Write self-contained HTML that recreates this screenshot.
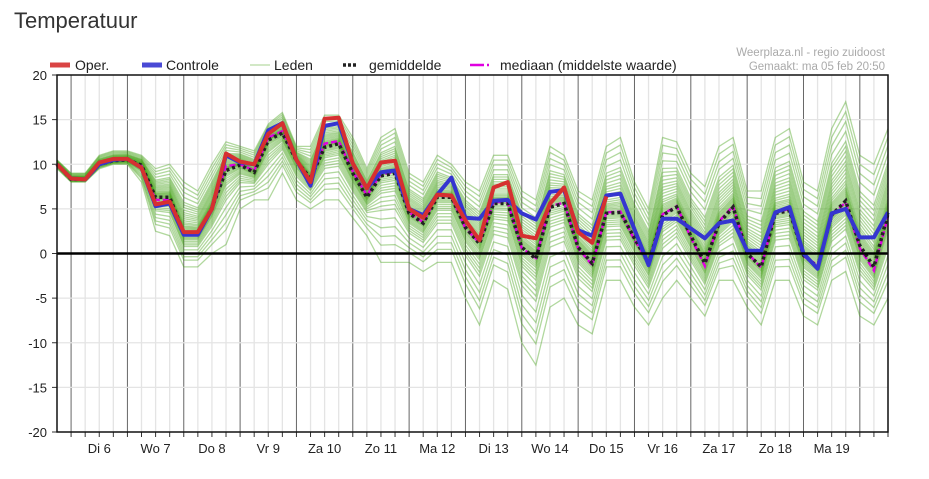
<!DOCTYPE html>
<html><head><meta charset="utf-8">
<style>
body{margin:0;background:#fff;font-family:"Liberation Sans",Arial,sans-serif;}
#wrap{position:relative;width:929px;height:479px;overflow:hidden;background:#fff;}
#title{position:absolute;left:14px;top:8px;font-size:22px;color:#333;}
svg{position:absolute;left:0;top:0;}
</style></head><body>
<div id="wrap">
<div id="title">Temperatuur</div>
<svg id="chart" width="929" height="479"></svg>
</div>
<script>
const dayLabels=["Di 6","Wo 7","Do 8","Vr 9","Za 10","Zo 11","Ma 12","Di 13","Wo 14","Do 15","Vr 16","Za 17","Zo 18","Ma 19"];
const yTicks=[20,15,10,5,0,-5,-10,-15,-20];
const oper=[10,8.4,8.3,10.2,10.6,10.6,9.6,5.5,5.8,2.4,2.4,5,11.2,10.3,10,13.4,14.6,10.5,8,15.1,15.2,10.1,7.3,10.2,10.4,5.0,4.0,6.6,6.5,3.7,1.5,7.4,8.0,2.0,1.7,5.6,7.4,2.4,1.2,6.4];
const controle=[10,8.4,8.3,10,10.5,10.6,9.6,5.3,5.6,2.1,2.1,5,11,10.2,10,13.8,14.6,10.5,7.6,14.3,14.6,10.1,7.3,9.1,9.3,5.0,4.3,6.6,8.5,4.0,3.9,5.9,6.0,4.5,3.8,6.9,7.1,2.6,2.0,6.5,6.7,2.7,-1.3,3.9,3.9,2.8,1.7,3.4,3.7,0.3,0.3,4.6,5.2,0,-1.7,4.5,5.0,1.8,1.8,4.6];
const gemiddelde=[10,8.3,8.3,10,10.4,10.5,9.9,6.3,6.3,2.3,2.3,5.1,9.3,9.9,9.1,12.7,13.5,10.4,8.4,11.9,12.3,9,6.3,8.7,9,4.5,3.4,6.3,6.3,2.9,1.1,5.6,5.6,0.7,-0.6,5.2,5.6,0.7,-1.1,4.5,4.6,1.7,-1.1,4.3,5.2,2,-1.1,3.4,5.2,0,-1.5,4.5,4.8,-0.2,-1.5,4.3,5.9,0.9,-1.5,4.5];
const mediaan=[10,8.3,8.3,10.1,10.5,10.5,9.8,6,6,2.2,2.2,5,9.8,10,9.3,13,13.7,10.5,8.2,12.3,12.6,9.2,6.5,8.9,9.1,4.6,3.5,6.5,6.4,2.8,1.2,5.8,5.7,0.6,-0.5,5.3,5.7,0.6,-1.3,4.6,4.7,1.5,-1.0,4.4,5.3,1.8,-1.4,3.6,5.3,0.1,-1.6,4.6,5.0,-0.3,-1.3,4.4,5.7,0.6,-1.9,4.2];
const ledenHigh=[10.5,9,9,11,11.5,11.5,11,9.5,10,8,7,10,12.5,12,11.5,14.5,15.8,12,12,15.5,15.5,13,9.5,13,14,9,8,11,10,8,7,11,11,7,6,12,11,7,6,12,13,8,5,13,12.5,9,7.5,12,13,7,7,13,14,8,7,14,17,11,10,14];
const ledenLow=[9.5,8,8,9.5,10,10,8,2.5,2,-1.5,-1.5,0,1,5,6,6,9,6,5,6,6,4,2,-1,-1,-1,-2,-1,-1,-5,-8,-3,-4,-10,-12.5,-6,-5,-8,-9,-3,-3,-6,-8,-5,-3,-5,-7,-3,-3,-6,-8,-3,-3,-7,-8,-3,-2,-7,-8,-5];
const memberQ=[-1,-0.8,-0.6,-0.5,-0.4,-0.35,-0.3,-0.25,-0.2,-0.17,-0.14,-0.11,-0.08,-0.06,-0.04,-0.02,0,0.02,0.04,0.06,0.08,0.1,0.12,0.14,0.17,0.2,0.24,0.28,0.32,0.36,0.4,0.45,0.5,0.55,0.6,0.7,0.8,0.9,1,-0.7];

const NS='http://www.w3.org/2000/svg';
const svg=document.getElementById('chart');
const X0=57,X1=888,Y0=75,Y1=432,N=60;
const xs=i=>X0+i*(X1-X0)/(N-1);
const ys=v=>Y1-(v+20)*(Y1-Y0)/40;
function mk(tag,attrs,parent){const e=document.createElementNS(NS,tag);for(const k in attrs)e.setAttribute(k,attrs[k]);(parent||svg).appendChild(e);return e;}

const grid=mk('g',{});


for(let i=1;i<N;i++){
  const day=(i-1)%4===0;
  const l=mk('line',{x1:xs(i),x2:xs(i),y1:Y0,y2:Y1,stroke:day?'#666':'#e4e4e4','stroke-width':day?1:1.3},grid);
  
  
  mk('line',{x1:xs(i),x2:xs(i),y1:Y1,y2:Y1+5,stroke:'#333','stroke-width':1},grid);
}
yTicks.forEach(v=>{
  if(v!==0&&v!==20&&v!==-20){const l=mk('line',{x1:X0,x2:X1,y1:ys(v),y2:ys(v),stroke:'#e4e4e4','stroke-width':1.3},grid);
  
  }
  mk('line',{x1:X0-5,x2:X0,y1:ys(v),y2:ys(v),stroke:'#333'},grid);
  const t=mk('text',{x:X0-10,y:ys(v)+5,'text-anchor':'end','font-size':13,fill:'#222'},grid);
  t.textContent=v;
  
  
});
dayLabels.forEach((d,k)=>{
  const t=mk('text',{x:xs(3+4*k),y:453,'text-anchor':'middle','font-size':13,fill:'#222'});
  t.textContent=d;
  
  
});

function path(arr){return arr.map((v,i)=>(i?'L':'M')+xs(i).toFixed(1)+','+ys(v).toFixed(1)).join('');}
const mg=mk('g',{});


memberQ.forEach(q=>{
  const arr=gemiddelde.map((m,i)=>q>=0?m+q*(ledenHigh[i]-m):m+q*(m-ledenLow[i]));
  const p=mk('path',{d:path(arr),fill:'none',stroke:'#45a318','stroke-opacity':0.42,'stroke-width':1.3},mg);
  
  
});
const ml=mk('path',{d:path(mediaan),fill:'none',stroke:'#e000e0','stroke-width':2.5,'stroke-dasharray':'6,3'});


const gl=mk('path',{d:path(gemiddelde),fill:'none',stroke:'#222','stroke-width':3.5,'stroke-dasharray':'3,3'});


const cl=mk('path',{d:path(controle),fill:'none',stroke:'#3535d0','stroke-width':4,'stroke-linejoin':'round'});


const ol=mk('path',{d:path(oper),fill:'none',stroke:'#d63030','stroke-width':4,'stroke-linejoin':'round'});



const z=mk('line',{x1:X0,x2:X1,y1:ys(0),y2:ys(0),stroke:'#000','stroke-width':2.5});


const fr=mk('rect',{x:X0,y:Y0,width:X1-X0,height:Y1-Y0,fill:'none',stroke:'#111','stroke-width':1.5});



const lg=mk('g',{});


const items=[[50,75,'Oper.','#d63030',5,null,0.9],[142,166,'Controle','#3535d0',5,null,0.9],[250,274,'Leden','#4aa61e',1,null,0.5],[343,369,'gemiddelde','#222',3.5,'3,2',1],[470,500,'mediaan (middelste waarde)','#e000e0',2.5,'14,3,2,3',1]];
items.forEach(([x,tx,label,c,w,da,op])=>{
  const a={x1:x,x2:x+(da==='3,2'?14:20),y1:65,y2:65,stroke:c,'stroke-width':w,'stroke-opacity':op};if(da)a['stroke-dasharray']=da;
  mk('line',a,lg);
  const t=mk('text',{x:tx,y:70,'font-size':14,fill:'#222'},lg);
  t.textContent=label;
  
  
});
[['Weerplaza.nl - regio zuidoost',56],['Gemaakt: ma 05 feb 20:50',70]].forEach(([s,y])=>{
  const t=mk('text',{x:885,y:y,'text-anchor':'end','font-size':11.5,fill:'#aaa'});
  t.textContent=s;
  
  
});
</script>
</body></html>
